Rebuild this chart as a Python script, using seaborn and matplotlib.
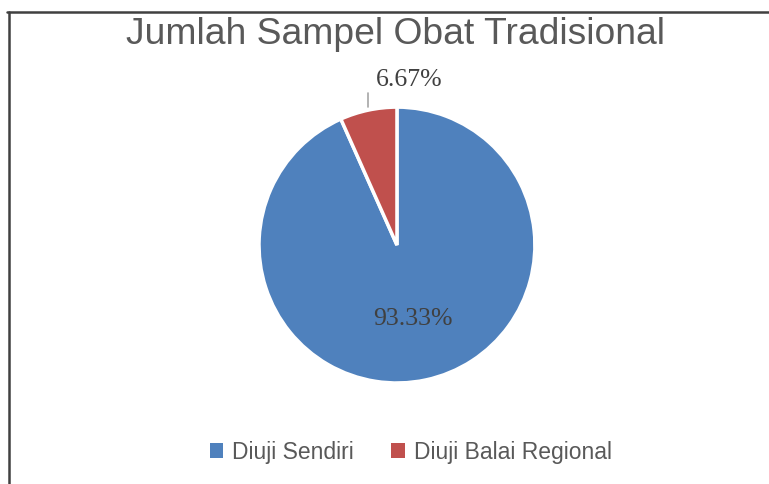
import matplotlib
matplotlib.use("Agg")
import matplotlib.pyplot as plt
import seaborn as sns
import numpy as np
from matplotlib.lines import Line2D
from matplotlib.patches import Patch

# data
kategori = ["Diuji Sendiri", "Diuji Balai Regional"]
jumlah = [14, 1]
warna = ["#4F81BD", "#C0504D"]

sns.set_style("white")
plt.rcParams["font.family"] = ["Liberation Sans", "DejaVu Sans"]
palet = sns.color_palette(warna)

fig = plt.figure(figsize=(7.69, 4.84), dpi=100)
fig.patch.set_facecolor("white")

# sumbu persegi untuk pie
ax = fig.add_axes([0.3009, 0.1517, 0.4306, 0.684])
wedges, _ = ax.pie(
    jumlah,
    colors=palet,
    startangle=90,
    counterclock=False,
    radius=1.0,
    wedgeprops=dict(edgecolor="white", linewidth=2.5),
)
ax.set_xlim(-1.2, 1.2)
ax.set_ylim(-1.2, 1.2)
ax.set_aspect("equal")
ax.axis("off")

serif = ["Liberation Serif", "DejaVu Serif"]
total = sum(jumlah)
for w, n in zip(wedges, jumlah):
    pct = n / total * 100
    sudut = np.deg2rad((w.theta1 + w.theta2) / 2)
    cx, cy = np.cos(sudut), np.sin(sudut)
    if pct > 50:
        ax.text(0.55 * cx, 0.55 * cy, f"{pct:.2f}%", ha="center", va="center",
                fontsize=18.5, color="#404040", family=serif)
    else:
        ax.plot([cx, cx], [cy + 0.02, 1.10], color="#A6A6A6", lw=1.2)
        ax.text(cx + 0.30, 1.195, f"{pct:.2f}%", ha="center", va="center",
                fontsize=18.5, color="#404040", family=serif)

fig.text(0.514, 0.928, "Jumlah Sampel Obat Tradisional", ha="center", va="center",
         fontsize=26.8, color="#595959")

handles = [Patch(facecolor=c, edgecolor="none") for c in palet]
fig.legend(handles, kategori, loc="center", bbox_to_anchor=(0.534, 1 - 452 / 484),
           ncol=2, frameon=False, fontsize=16.5, handlelength=0.6, handleheight=0.6,
           handletextpad=0.4, columnspacing=1.6, labelcolor="#595959")

# garis tepi atas dan kiri
fig.add_artist(Line2D([7 / 769, 1], [1 - 12 / 484] * 2, color="#404040", lw=1.8,
                      transform=fig.transFigure))
fig.add_artist(Line2D([9 / 769] * 2, [0, 1 - 12 / 484], color="#404040", lw=1.8,
                      transform=fig.transFigure))

fig.savefig("out.png", dpi=100, facecolor="white")
